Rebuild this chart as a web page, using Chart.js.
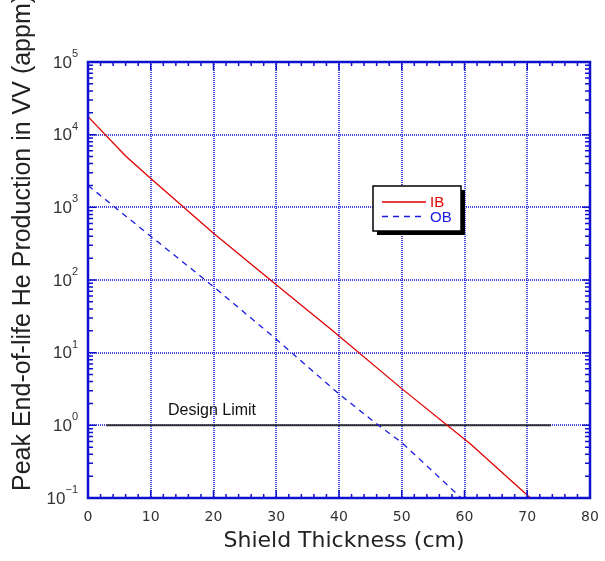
<!DOCTYPE html>
<html><head><meta charset="utf-8">
<script src="https://cdn.jsdelivr.net/npm/chart.js@4"></script>
<style>html,body{margin:0;padding:0;background:#fff}#wrap{width:605px;height:561px;position:relative}</style>
</head><body><div id="wrap"><canvas id="c" width="605" height="561"></canvas></div>
<script>
const xTickLabels = [0, 10, 20, 30, 40, 50, 60, 70, 80];
const yDecadeExponents = [-1, 0, 1, 2, 3, 4, 5];
const ibThickness = [0, 6, 10, 20, 30, 39, 50, 61, 70.5];
const ibHelium = [17700, 5100, 2500, 440, 86, 20, 3.2, 0.55, 0.1];
const obThickness = [0, 10, 20, 30, 40, 46.3, 50, 59.5];
const obHelium = [2000, 400, 81, 15.3, 2.7, 1.0, 0.58, 0.1];
const limitThickness = [2.9, 73.8];
const limitHelium = [1, 1];
const seriesNames = ['IB', 'OB'];

const AXIS = '#1010d0';
const pts = (xs, ys) => xs.map((x, i) => ({x: x, y: ys[i]}));

const decorPlugin = {
  id: 'decor',
  beforeDatasetsDraw(chart) {
    const {ctx, chartArea: a, scales: {x, y}} = chart;
    ctx.save();
    ctx.strokeStyle = 'rgba(40,40,220,0.85)';
    ctx.lineWidth = 2;
    ctx.setLineDash([1, 1]);
    xTickLabels.forEach(v => {
      if (v === 0 || v === 80) return;
      const px = Math.round(x.getPixelForValue(v));
      ctx.beginPath(); ctx.moveTo(px, a.top); ctx.lineTo(px, a.bottom); ctx.stroke();
    });
    yDecadeExponents.forEach(e => {
      if (e === -1 || e === 5) return;
      const py = Math.round(y.getPixelForValue(Math.pow(10, e)));
      ctx.beginPath(); ctx.moveTo(a.left, py); ctx.lineTo(a.right, py); ctx.stroke();
    });
    ctx.restore();
  },
  afterDatasetsDraw(chart) {
    const {ctx, chartArea: a, scales: {x, y}} = chart;
    ctx.save();
    ctx.strokeStyle = AXIS;
    ctx.lineWidth = 1.5;
    ctx.setLineDash([]);
    for (let v = 0; v <= 80; v += 2) {
      const px = x.getPixelForValue(v);
      const len = (v % 10 === 0) ? 8 : 4;
      ctx.beginPath();
      ctx.moveTo(px, a.bottom); ctx.lineTo(px, a.bottom - len);
      ctx.moveTo(px, a.top); ctx.lineTo(px, a.top + len);
      ctx.stroke();
    }
    yDecadeExponents.forEach(e => {
      for (let m = 1; m <= 9; m++) {
        if (e === 5 && m > 1) continue;
        const py = y.getPixelForValue(m * Math.pow(10, e));
        const len = m === 1 ? 8 : 5;
        ctx.beginPath();
        ctx.moveTo(a.left, py); ctx.lineTo(a.left + len, py);
        ctx.moveTo(a.right, py); ctx.lineTo(a.right - len, py);
        ctx.stroke();
      }
    });
    ctx.lineWidth = 2.5;
    ctx.strokeRect(a.left, a.top, a.right - a.left, a.bottom - a.top);

    ctx.fillStyle = '#333';
    ctx.font = '14px "DejaVu Sans"';
    ctx.textAlign = 'center';
    ctx.textBaseline = 'middle';
    xTickLabels.forEach(v => {
      ctx.fillText(String(v), x.getPixelForValue(v), 517);
    });
    yDecadeExponents.forEach(e => {
      const py = y.getPixelForValue(Math.pow(10, e));
      const exp = e < 0 ? '\u2212' + (-e) : String(e);
      ctx.font = '11px "Liberation Sans"';
      const ew = ctx.measureText(exp).width;
      ctx.font = '17px "Liberation Sans"';
      const bw = ctx.measureText('10').width;
      const right = 78;
      ctx.textAlign = 'left';
      ctx.textBaseline = 'middle';
      ctx.fillText('10', right - ew - bw, py + 1);
      ctx.font = '11px "Liberation Sans"';
      ctx.fillText(exp, right - ew, py - 8);
    });
    ctx.fillStyle = '#222';
    ctx.font = '22px "DejaVu Sans"';
    ctx.textAlign = 'center';
    ctx.textBaseline = 'middle';
    ctx.fillText('Shield Thickness (cm)', 344, 541);
    ctx.save();
    ctx.translate(23, 491);
    ctx.rotate(-Math.PI / 2);
    ctx.font = '25px "Liberation Sans"';
    ctx.textAlign = 'left';
    ctx.fillText('Peak End-of-life He Production in VV (appm)', 0, 0);
    ctx.restore();

    ctx.fillStyle = '#111';
    ctx.font = '16px "Liberation Sans"';
    ctx.textAlign = 'left';
    ctx.fillText('Design Limit', 168, 411);

    const lx = 373, ly = 186, lw = 88, lh = 45;
    ctx.fillStyle = '#000';
    ctx.fillRect(lx + 4, ly + 4, lw, lh);
    ctx.fillStyle = '#fff';
    ctx.fillRect(lx, ly, lw, lh);
    ctx.strokeStyle = '#000';
    ctx.lineWidth = 1.5;
    ctx.strokeRect(lx, ly, lw, lh);
    const ds = chart.data.datasets;
    [0, 1].forEach(i => {
      const yy = ly + 16 + i * 14.5;
      ctx.strokeStyle = ds[i].borderColor;
      ctx.lineWidth = 1.3;
      ctx.setLineDash(ds[i].borderDash || []);
      ctx.beginPath(); ctx.moveTo(382, yy); ctx.lineTo(426, yy); ctx.stroke();
      ctx.setLineDash([]);
      ctx.fillStyle = ds[i].borderColor;
      ctx.font = '15px "Liberation Sans"';
      ctx.textBaseline = 'middle';
      ctx.fillText(seriesNames[i], 430, yy + 1);
    });
    ctx.restore();
  }
};

new Chart(document.getElementById('c'), {
  type: 'scatter',
  data: {
    datasets: [
      {label: seriesNames[0], data: pts(ibThickness, ibHelium), showLine: true, borderColor: '#e00000', borderWidth: 1.3, pointRadius: 0, tension: 0},
      {label: seriesNames[1], data: pts(obThickness, obHelium), showLine: true, borderColor: '#1a1ae0', borderWidth: 1.3, borderDash: [6, 5], pointRadius: 0, tension: 0},
      {label: 'Design Limit', data: pts(limitThickness, limitHelium), showLine: true, borderColor: '#333', borderWidth: 2, pointRadius: 0}
    ]
  },
  options: {
    responsive: false,
    animation: false,
    devicePixelRatio: 1,
    layout: {padding: {left: 88, top: 62, right: 15, bottom: 63}},
    plugins: {legend: {display: false}, tooltip: {enabled: false}},
    scales: {
      x: {type: 'linear', min: 0, max: 80, display: false},
      y: {type: 'logarithmic', min: 0.1, max: 100000, display: false}
    }
  },
  plugins: [decorPlugin]
});
</script></body></html>
